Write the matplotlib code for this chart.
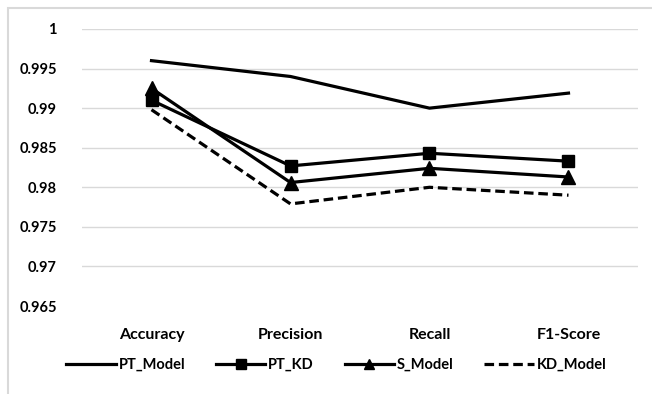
import numpy as np
import matplotlib
matplotlib.use("Agg")
import matplotlib.pyplot as plt
from matplotlib.patches import Rectangle

plt.rcParams['font.family'] = ['Lato', 'DejaVu Sans']
plt.rcParams['font.weight'] = 'bold'

# data
categories = ['Accuracy', 'Precision', 'Recall', 'F1-Score']
pt_model = [0.9960, 0.9940, 0.9900, 0.9919]
pt_kd = [0.9910, 0.9827, 0.9843, 0.9833]
s_model = [0.9925, 0.9806, 0.9824, 0.9813]
kd_model = [0.9898, 0.9779, 0.9800, 0.9790]
y_ticks = [0.965, 0.97, 0.975, 0.98, 0.985, 0.99, 0.995, 1.0]
y_tick_labels = ['0.965', '0.97', '0.975', '0.98', '0.985', '0.99', '0.995', '1']

fig = plt.figure(figsize=(6.52, 3.94), dpi=100)
ax = fig.add_axes([82 / 652, 1 - 306 / 394, 556 / 652, 277 / 394])

x = np.arange(len(categories))
lw = 2.3
ax.plot(x, pt_model, color='black', lw=lw, label='PT_Model')
ax.plot(x, pt_kd, color='black', lw=lw, marker='s', ms=9, label='PT_KD')
ax.plot(x, s_model, color='black', lw=lw, marker='^', ms=10, label='S_Model')
ax.plot(x, kd_model, color='black', lw=lw, ls=(0, (3, 1.5)), label='KD_Model')

ax.set_xlim(-0.5, 3.5)
ax.set_ylim(0.965, 1.0)
ax.set_yticks(y_ticks)
ax.set_yticklabels(y_tick_labels)
ax.set_xticks(x)
ax.set_xticklabels(categories)
ax.tick_params(axis='both', length=0, labelsize=10.5, colors='black')
ax.tick_params(axis='x', pad=16, labelsize=11.5)
ax.tick_params(axis='y', pad=18)
for t in ax.get_yticklabels() + ax.get_xticklabels():
    t.set_fontweight('bold')

# gridlines, no gridline at the bottom
for v in y_ticks[1:]:
    ax.axhline(v, color='#d9d9d9', lw=1, zorder=0)
for s in ax.spines.values():
    s.set_visible(False)

leg = fig.legend(loc='center', bbox_to_anchor=(0.516, 1 - 365 / 394), ncol=4,
                 frameon=False, handlelength=3.4, columnspacing=2.1,
                 handletextpad=0.2, markerscale=0.75,
                 prop={'size': 10.5, 'weight': 'bold'})

# chart border (only left and top are visible in the picture)
fig.patches.append(Rectangle((8 / 652, -0.5), 2, 1.5 - 8 / 394,
                             transform=fig.transFigure, fill=False,
                             edgecolor='#d9d9d9', lw=1.5))

fig.savefig('out.png', dpi=100)
